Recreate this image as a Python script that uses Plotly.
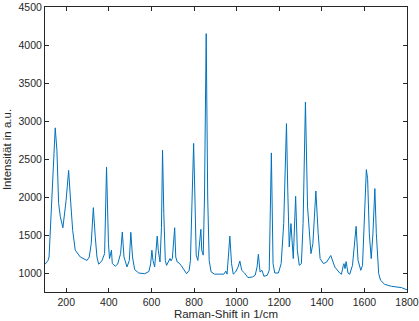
import plotly.graph_objects as go

# Raman spectrum points
raman_shift = [
    100, 114, 119, 130, 138, 148, 156, 164, 172, 184, 199, 211, 219, 230, 242, 266,
    297, 308, 317, 327, 336, 344, 352, 367, 380, 389, 398, 403, 412, 416, 430, 441,
    455, 463, 471, 485, 496, 503, 511, 521, 540, 552, 568, 588, 596, 602, 607, 615,
    621, 627, 632, 640, 647, 652, 658, 665, 671, 680, 687, 692, 698, 709, 714, 721,
    730, 739, 754, 765, 777, 783, 791, 798, 804, 810, 818, 825, 832, 836, 843, 849,
    857, 864, 871, 880, 896, 919, 940, 949, 955, 961, 968, 976, 984, 995, 1007, 1015,
    1024, 1037, 1053, 1075, 1087, 1096, 1102, 1110, 1119, 1128, 1144, 1153, 1163, 1171,
    1179, 1196, 1209, 1221, 1234, 1240, 1247, 1255, 1266, 1277, 1285, 1294, 1304, 1312,
    1323, 1333, 1349, 1358, 1372, 1383, 1392, 1408, 1423, 1442, 1461, 1484, 1492, 1501,
    1504, 1509, 1514, 1523, 1531, 1544, 1561, 1570, 1583, 1591, 1600, 1609, 1615, 1623,
    1632, 1640, 1649, 1656, 1667, 1676, 1695, 1727, 1774, 1800,
]
intensity = [
    1115, 1165, 1210, 1825, 2350, 2910, 2615, 1915, 1740, 1595, 1955, 2350, 2000, 1560, 1300, 1210,
    1165, 1210, 1385, 1860, 1475, 1210, 1115, 1160, 1255, 2395, 1385, 1190, 1300, 1125, 1090, 1115,
    1255, 1540, 1210, 1080, 1165, 1535, 1210, 1045, 1000, 995, 990, 1020, 1120, 1300, 1165, 1080,
    1350, 1485, 1300, 1145, 1600, 2615, 1780, 1165, 1100, 1145, 1190, 1160, 1190, 1595, 1210, 1145,
    1130, 1100, 1035, 990, 1035, 1165, 2000, 2705, 2000, 1235, 1165, 1350, 1575, 1300, 1235, 2000,
    4150, 2000, 1165, 1015, 985, 985, 985, 1025, 985, 1210, 1485, 1125, 985, 1013, 1080, 1158,
    1035, 1000, 940, 948, 970, 1080, 1246, 1013, 1035, 957, 970, 1035, 2580, 1123,
    1000, 1000, 1123, 1650, 2966, 2090, 1343, 1650, 1189, 2009, 1300, 1101, 1123, 1650,
    3250, 1870, 1255, 1387, 2079, 1518, 1189, 1123, 1145, 1230, 1079, 1000, 983, 1100,
    1123, 1057, 1150, 1000, 983, 1101, 1614, 1167, 1035, 1100, 1737, 2360, 2242, 1518,
    1189, 1518, 2110, 1518, 991, 904, 851, 825, 808, 778,
]

x_ticks = [200, 400, 600, 800, 1000, 1200, 1400, 1600, 1800]
y_ticks = [1000, 1500, 2000, 2500, 3000, 3500, 4000, 4500]

FONT = "Liberation Sans, Arial, sans-serif"

fig = go.Figure()
fig.add_trace(go.Scatter(
    x=raman_shift, y=intensity, mode="lines",
    line=dict(color="#0072BD", width=1),
    showlegend=False, hoverinfo="skip",
))

axis_common = dict(
    showline=True, linecolor="#262626", linewidth=1, mirror="ticks",
    ticks="inside", ticklen=4, tickwidth=1, tickcolor="#262626",
    showgrid=False, zeroline=False,
    tickfont=dict(family=FONT, size=10.5, color="#262626"),
)

fig.update_layout(
    width=419, height=321,
    margin=dict(l=45, r=12, t=7, b=29, autoexpand=False),
    paper_bgcolor="white", plot_bgcolor="white",
    xaxis=dict(range=[100, 1800], tickvals=x_ticks, ticktext=[str(v) for v in x_ticks],
               title=dict(text="Raman-Shift in 1/cm", standoff=2,
                          font=dict(family=FONT, size=11.5, color="#262626")),
               **axis_common),
    yaxis=dict(range=[750, 4500], tickvals=y_ticks, ticktext=[str(v) for v in y_ticks],
               title=dict(text="Intensität in a.u.", standoff=4,
                          font=dict(family=FONT, size=11.5, color="#262626")),
               **axis_common),
)

fig.write_html(
    "out.html",
    config={"displayModeBar": False},
    post_script="document.body.style.margin='0';document.body.style.padding='0';",
)
